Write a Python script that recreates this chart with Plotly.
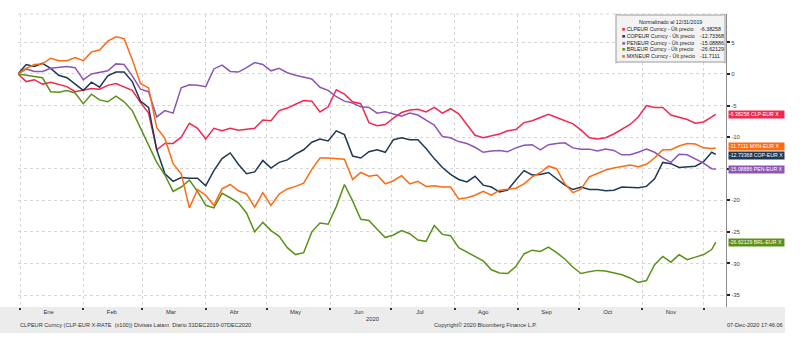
import pandas as pd
import plotly.graph_objects as go

# Sampling dates (every 4 days from 31-Dec-2019, plus the last print on 07-Dec-2020)
dates = list(pd.date_range("2019-12-31", periods=86, freq="4D")) + [pd.Timestamp("2020-12-07")]

# Cumulative % change vs 31-Dec-2019 (x100 normalised rates against EUR)
clp = [0, -1.2, -0.9, -1.6, -1.3, -1.6, -2.0, -2.8, -2.6, -2.3,
       -2.4, -1.8, -1.5, -2.1, -2.6, -4.5, -6.2, -12.0, -11.0, -11.0,
       -10.0, -7.8, -8.6, -10.3, -8.6, -9.0, -8.6, -8.9, -8.8, -8.6,
       -7.3, -7.4, -5.8, -5.4, -4.8, -4.2, -4.3, -6.0, -5.2, -2.5,
       -3.2, -4.4, -4.7, -7.7, -8.2, -8.0, -7.0, -6.1, -5.7, -5.6,
       -6.0, -5.3, -6.2, -5.5, -6.3, -8.0, -9.7, -10.1, -9.8, -9.5,
       -9.0, -8.8, -7.7, -7.4, -6.9, -6.4, -6.9, -7.4, -7.9, -8.9,
       -10.1, -10.3, -10.1, -9.5, -8.7, -8.0, -6.8, -5.0, -5.3, -5.3,
       -6.5, -6.8, -7.2, -7.8, -7.6, -6.8, -6.38258]
cop = [0, 1.5, 1.2, 1.7, 0.9, -0.2, -0.6, -1.6, -2.6, -1.3,
       -2.1, -0.3, 0.3, 0.3, -1.2, -4.3, -5.3, -12.0, -15.8, -17.0,
       -16.4, -16.5, -16.5, -17.7, -15.3, -13.4, -12.5, -14.3, -15.8, -15.5,
       -13.7, -14.9, -14.0, -13.6, -12.7, -12.0, -10.8, -10.3, -10.6, -9.0,
       -9.6, -13.0, -13.3, -12.3, -12.0, -12.4, -10.4, -10.1, -10.4, -10.4,
       -11.8, -13.4, -14.8, -15.9, -16.7, -17.1, -16.2, -17.6, -17.9, -18.7,
       -18.4, -16.8, -15.3, -16.0, -15.9, -15.6, -16.6, -17.6, -18.3, -17.9,
       -18.3, -18.3, -18.5, -18.4, -17.9, -18.0, -18.0, -17.8, -16.6, -14.0,
       -14.2, -14.8, -14.7, -14.6, -13.9, -12.4, -12.73368]
pen = [0, 0.8, 0.4, 0.4, 0.9, 1.1, 1.2, 1.0, -0.9, 0.0,
       0.3, 0.5, 1.6, 1.5, -0.3, -2.4, -2.8, -6.8, -5.8, -6.2,
       -2.2, -1.7, -1.8, -2.0, 0.8, 1.4, 0.4, 0.3, 1.0, 1.8,
       1.5, 0.5, 0.9, 0.2, -0.2, -0.5, -0.8, -2.1, -2.6, -3.6,
       -4.3, -4.6, -5.2, -5.3, -6.2, -6.0, -6.4, -6.7, -6.2, -6.5,
       -7.3, -8.1, -9.9, -10.1, -10.7, -11.0, -11.6, -12.4, -12.2, -12.1,
       -12.3, -11.7, -11.3, -11.2, -12.0, -11.2, -11.0, -10.9, -11.7, -11.9,
       -11.9, -12.2, -11.9, -12.1, -12.8, -12.8, -12.4, -11.9, -12.4, -13.3,
       -14.0, -12.7, -12.8, -13.4, -14.1, -15.0, -15.08886]
brl = [0, -0.2, -0.5, -0.6, -2.8, -2.9, -2.6, -3.0, -4.7, -3.2,
       -4.1, -4.4, -3.5, -4.4, -5.8, -8.6, -11.3, -14.0, -16.0, -18.6,
       -17.9, -16.8, -18.6, -20.8, -21.2, -18.9, -19.6, -20.4, -22.0, -25.0,
       -23.5, -24.8, -25.7, -27.5, -28.6, -28.3, -25.0, -23.6, -23.8, -21.0,
       -17.5, -20.1, -23.0, -23.2, -24.6, -25.9, -25.5, -24.8, -25.3, -26.3,
       -26.5, -24.0, -25.4, -25.6, -27.5, -28.2, -29.0, -29.6, -31.0, -31.5,
       -31.6, -30.5, -28.5, -27.9, -28.1, -27.4, -28.3, -29.3, -30.6, -31.6,
       -31.3, -31.1, -31.2, -31.5, -31.8, -32.3, -33.0, -32.7, -30.2, -28.9,
       -29.8, -28.6, -29.4, -29.0, -28.6, -27.8, -26.62129]
mxn = [0, 0.9, 1.5, 1.6, 2.5, 2.1, 2.1, 2.6, 2.1, 3.5,
       3.8, 5.2, 5.9, 5.6, 2.3, -1.5, -2.2, -8.5, -10.2, -14.2,
       -15.8, -21.2, -18.3, -19.2, -20.8, -18.2, -17.5, -18.5, -19.0, -21.1,
       -18.8, -20.8, -19.0, -18.2, -17.8, -17.3, -15.1, -13.3, -13.3, -13.4,
       -13.5, -16.7, -15.6, -16.2, -16.0, -17.4, -16.9, -16.1, -17.4, -17.0,
       -17.8, -17.7, -17.9, -17.9, -19.8, -19.6, -19.2, -18.6, -19.2, -18.4,
       -18.2, -18.1, -17.4, -16.3, -15.6, -14.6, -15.0, -17.4, -18.8, -18.2,
       -16.3, -15.8, -15.2, -14.9, -14.6, -14.4, -14.7, -14.3, -13.3, -12.0,
       -12.0, -11.4, -11.0, -11.1, -11.7, -11.8, -11.7111]

tickers = ["CLPEUR", "COPEUR", "PENEUR", "BRLEUR", "MXNEUR"]
pairs = ["CLP-EUR X", "COP-EUR X", "PEN-EUR X", "BRL-EUR X", "MXN-EUR X"]
values = [clp, cop, pen, brl, mxn]
colors = ["#f4284f", "#1f3854", "#8d55b5", "#5b9118", "#fc6b12"]
# small vertical nudges so that touching value tags do not cover each other
tag_shift = [0, -1, 0, 0, 1]

# right-axis ticks; the -15 label sits under the PEN tag, so it is left blank
y_ticks = [5, 0, -5, -10, -15, -20, -25, -30, -35]
y_labels = ["5", "0", "-5", "-10", "", "-20", "-25", "-30", "-35"]

month_mid = ["2020-%02d-15" % m for m in range(1, 12)]
month_names = ["Ene", "Feb", "Mar", "Abr", "May", "Jun", "Jul", "Ago", "Sep", "Oct", "Nov"]
month_start = ["2020-%02d-01" % m for m in range(1, 13)]

W, H = 809, 340
L, R, T, B = 18, 83, 14, 33
PW, PH = W - L - R, H - T - B
FONT = "Liberation Sans"


def px_x(x):
    return (x - L) / PW


def px_y(y):
    return 1 - (y - T) / PH


def fmt(v):
    return f"{v:.5f}".rstrip("0")


def rounded_box(x0, y0, x1, y1, r):
    # SVG path (pixel coordinates) for a rectangle with rounded corners
    return (f"M{x0 + r},{y0} L{x1 - r},{y0} Q{x1},{y0} {x1},{y0 + r} "
            f"L{x1},{y1 - r} Q{x1},{y1} {x1 - r},{y1} L{x0 + r},{y1} "
            f"Q{x0},{y1} {x0},{y1 - r} L{x0},{y0 + r} Q{x0},{y0} {x0 + r},{y0} Z")


fig = go.Figure()
for tk, vals, col in zip(tickers, values, colors):
    fig.add_trace(go.Scatter(x=dates, y=vals, mode="lines", name=tk,
                             line=dict(color=col, width=1.5), showlegend=False))

shapes = [
    # footer band
    dict(type="rect", xref="paper", yref="paper", x0=px_x(0), x1=px_x(785),
         y0=px_y(333), y1=0, fillcolor="#ececec", line=dict(width=0), layer="below"),
    # top frame line
    dict(type="line", xref="paper", yref="paper", x0=0, x1=1, y0=1, y1=1,
         line=dict(color="#d6d6d6", width=1, dash="dot")),
    # legend box (pixel-anchored path)
    dict(type="path", xref="paper", yref="paper",
         path=rounded_box(px_x(616), px_y(15), px_x(725), px_y(62), 0.004),
         fillcolor="#f3f3f3", line=dict(color="#9a9a9a", width=1)),
]

LEG = 5.3
ann = []
ann.append(dict(xref="paper", yref="paper", x=px_x(670), y=px_y(22.5), text="Normalizado al 12/31/2019",
                showarrow=False, xanchor="center", yanchor="middle",
                font=dict(family=FONT, size=LEG, color="#222")))
rows = [29, 35.7, 42.5, 49, 55.7]
for tk, vals, col, yy in zip(tickers, values, colors, rows):
    ann.append(dict(xref="paper", yref="paper", x=px_x(620), y=px_y(yy),
                    text=f'<span style="color:{col}">■</span> {tk} Curncy - Últ precio',
                    showarrow=False, xanchor="left", yanchor="middle",
                    font=dict(family=FONT, size=LEG, color="#222")))
    ann.append(dict(xref="paper", yref="paper", x=px_x(698), y=px_y(yy),
                    text=fmt(vals[-1]), showarrow=False, xanchor="left", yanchor="middle",
                    font=dict(family=FONT, size=LEG, color="#222")))

# last-value tags on the right axis
for pr, vals, col, sh in zip(pairs, values, colors, tag_shift):
    ann.append(dict(xref="paper", yref="y", x=1, y=vals[-1], xshift=2, yshift=sh,
                    text=f"{fmt(vals[-1])} {pr}", showarrow=False,
                    xanchor="left", yanchor="middle", align="left",
                    width=55, height=6.5, bgcolor=col, borderpad=0,
                    font=dict(family=FONT, size=5.2, color="white")))

ann.append(dict(xref="paper", yref="paper", x=px_x(373), y=px_y(318.5), text="2020",
                showarrow=False, xanchor="center", yanchor="middle",
                font=dict(family=FONT, size=5.8, color="#333")))
ann.append(dict(xref="paper", yref="paper", x=px_x(18), y=px_y(325),
                text="CLPEUR Curncy (CLP-EUR X-RATE  (x100)) Divisas Latam  Diario 31DEC2019-07DEC2020",
                showarrow=False, xanchor="left", yanchor="middle",
                font=dict(family=FONT, size=5.6, color="#333")))
ann.append(dict(xref="paper", yref="paper", x=px_x(432), y=px_y(325),
                text="Copyright© 2020 Bloomberg Finance L.P.",
                showarrow=False, xanchor="left", yanchor="middle",
                font=dict(family=FONT, size=5.6, color="#333")))
ann.append(dict(xref="paper", yref="paper", x=px_x(785), y=px_y(325),
                text="07-Dec-2020 17:46:06",
                showarrow=False, xanchor="right", yanchor="middle",
                font=dict(family=FONT, size=5.6, color="#333")))

fig.update_layout(
    width=W, height=H,
    margin=dict(l=L, r=R, t=T, b=B, pad=0),
    paper_bgcolor="white", plot_bgcolor="white",
    shapes=shapes, annotations=ann,
    xaxis=dict(
        type="date", range=["2019-12-31", "2020-12-12"],
        tickmode="array", tickvals=month_mid, ticktext=month_names,
        ticks="", showgrid=False, zeroline=False, showline=False,
        tickfont=dict(family=FONT, size=5.8, color="#333"),
        minor=dict(tickmode="array", tickvals=month_start, ticks="outside", ticklen=2,
                   tickwidth=1.5, tickcolor="#333", showgrid=True,
                   gridcolor="#d6d6d6", griddash="dot", gridwidth=1),
    ),
    yaxis=dict(
        side="right", range=[-36.9, 9.5], tickmode="array",
        tickvals=y_ticks, ticktext=y_labels,
        showgrid=True, gridcolor="#d6d6d6", griddash="dot", gridwidth=1,
        zeroline=False, showline=True, linecolor="#8a8a8a", linewidth=1,
        ticks="outside", ticklen=3, tickwidth=2, tickcolor="#222",
        tickfont=dict(family=FONT, size=6, color="#444"),
    ),
)

fig.write_html("out.html")
